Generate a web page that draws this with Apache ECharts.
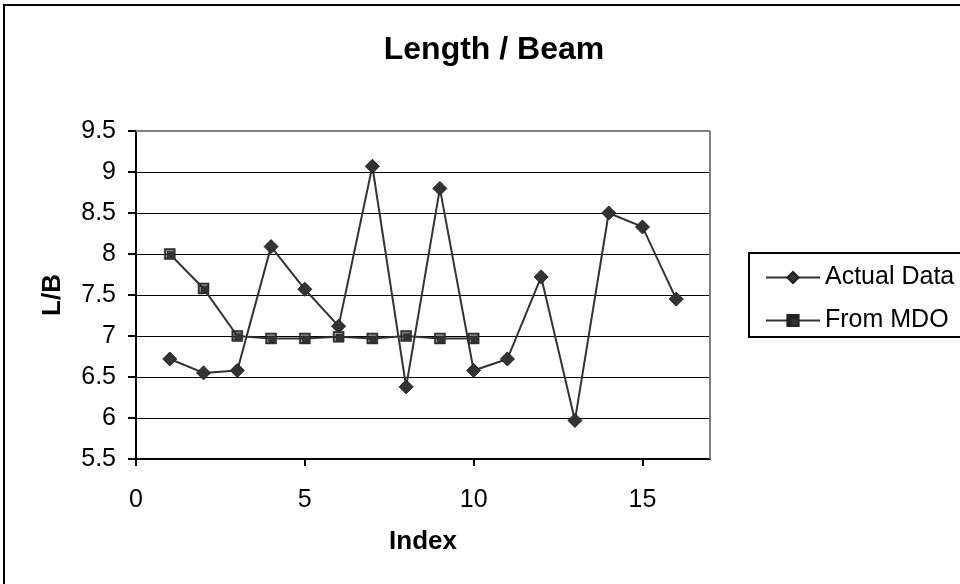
<!DOCTYPE html>
<html><head><meta charset="utf-8">
<script src="https://cdn.jsdelivr.net/npm/echarts@6/dist/echarts.min.js"></script>
<style>html,body{margin:0;padding:0;background:#fff}#c{width:960px;height:584px}</style>
</head><body><div id="c"></div>
<script>
const indexActual = [1,2,3,4,5,6,7,8,9,10,11,12,13,14,15,16];
const actualData = [6.72,6.55,6.58,8.09,7.57,7.12,9.07,6.38,8.80,6.58,6.72,7.72,5.97,8.50,8.33,7.45];
const indexMDO = [1,2,3,4,5,6,7,8,9,10];
const mdoData = [8.00,7.58,7.00,6.97,6.97,6.99,6.97,7.00,6.97,6.97];
const xTicks = [0,5,10,15];
const titleText = 'Length / Beam';
const xName = 'Index';
const yName = 'L/B';
const seriesNames = ['Actual Data','From MDO'];

const chart = echarts.init(document.getElementById('c'), null, {renderer:'canvas'});
const font = 'Liberation Sans, Arial, sans-serif';
const sq = 'path://M0,0 L10,0 L10,10 L0,10 Z M1.5,1.5 L1.5,8.5 L2.5,8.5 L2.5,2.5 L8.5,2.5 L8.5,1.5 Z';
chart.setOption({
  animation:false,
  backgroundColor:'#fff',
  title:{text:titleText,left:489,top:29,textAlign:'center',
    textStyle:{fontFamily:font,fontSize:32,fontWeight:'bold',color:'#000'}},
  graphic:[
    {type:'rect',shape:{x:4,y:5,width:1000,height:700},style:{fill:'none',stroke:'#000',lineWidth:2},z:-1},
    {type:'rect',shape:{x:749,y:253,width:300,height:84},style:{fill:'#fff',stroke:'#000',lineWidth:2},z:0},
    {type:'line',shape:{x1:136,y1:131,x2:710,y2:131},style:{stroke:'#808080',lineWidth:2},z:5},
    {type:'line',shape:{x1:710,y1:131,x2:710,y2:459},style:{stroke:'#808080',lineWidth:2},z:5}
  ],
  legend:{
    orient:'vertical',left:760,top:260,itemGap:18,itemWidth:54,itemHeight:14,
    textStyle:{fontFamily:font,fontSize:25,color:'#000'},
    data:seriesNames,
    z:10
  },
  grid:{left:136,right:250,top:131,bottom:125,show:false},
  xAxis:{type:'value',min:0,max:17,interval:5,
    name:xName,nameLocation:'middle',nameGap:70,
    nameTextStyle:{fontFamily:font,fontSize:26,fontWeight:'bold',color:'#000'},
    axisLine:{show:true,onZero:false,lineStyle:{color:'#000',width:2}},
    axisTick:{show:true,length:7,customValues:xTicks,lineStyle:{color:'#000',width:2}},
    axisLabel:{fontFamily:font,fontSize:25,color:'#000',margin:29,customValues:xTicks},
    splitLine:{show:false}},
  yAxis:{type:'value',min:5.5,max:9.5,interval:0.5,
    name:yName,nameLocation:'middle',nameGap:70,nameRotate:90,
    nameTextStyle:{fontFamily:font,fontSize:26,fontWeight:'bold',color:'#000'},
    axisLine:{show:true,onZero:false,lineStyle:{color:'#000',width:2}},
    axisTick:{show:true,length:8,lineStyle:{color:'#000',width:2}},
    axisLabel:{fontFamily:font,fontSize:25,color:'#000',margin:20,formatter:v=>String(v)},
    splitLine:{show:true,lineStyle:{color:'#000',width:1}}},
  series:[
    {name:seriesNames[0],type:'line',data:indexActual.map((x,i)=>[x,actualData[i]]),
      symbol:'diamond',symbolSize:[14,14],
      lineStyle:{color:'#333',width:2},
      itemStyle:{color:'#333',borderColor:'#222',borderWidth:1},z:3},
    {name:seriesNames[1],type:'line',data:indexMDO.map((x,i)=>[x,mdoData[i]]),
      symbol:sq,symbolSize:11,
      lineStyle:{color:'#333',width:2},
      itemStyle:{color:'#333',borderColor:'#222',borderWidth:0.5},z:4}
  ]
});
</script></body></html>
